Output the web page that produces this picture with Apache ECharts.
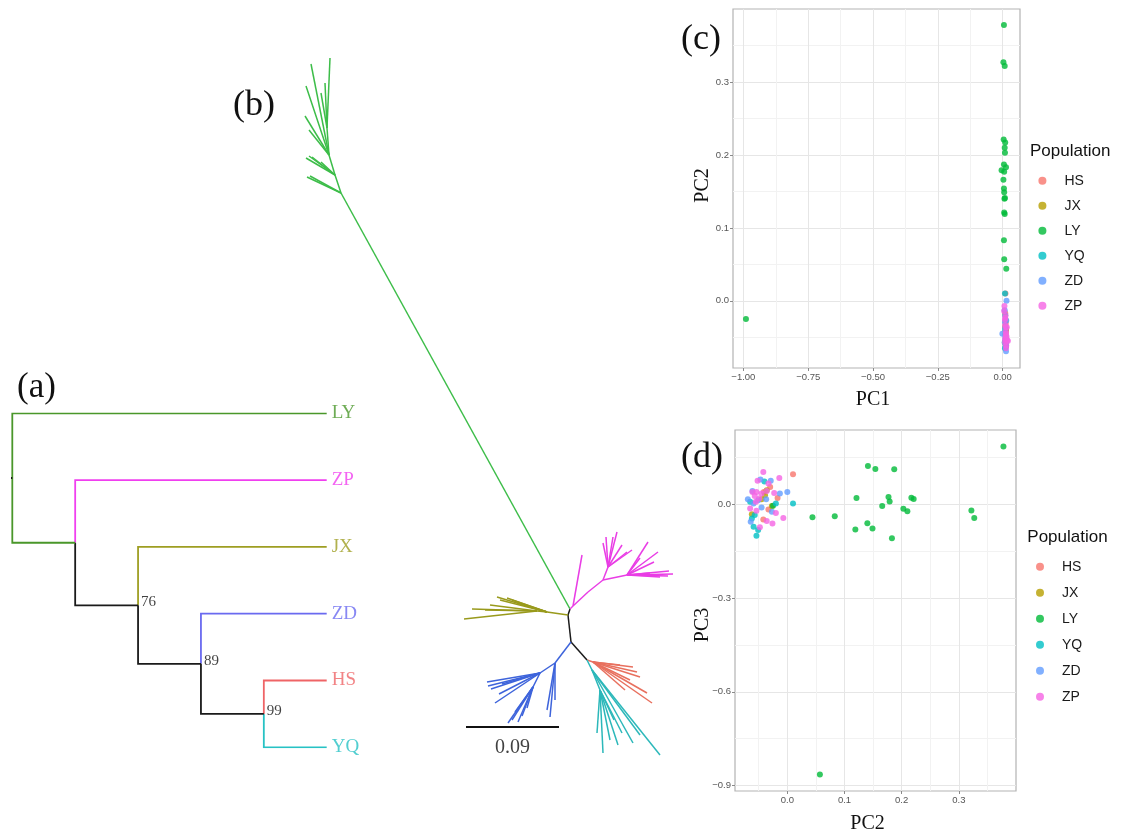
<!DOCTYPE html>
<html>
<head>
<meta charset="utf-8">
<title>Population structure</title>
<script src="https://cdn.jsdelivr.net/npm/echarts@6.0.0/dist/echarts.min.js"></script>
<style>
  html, body { margin: 0; padding: 0; background: #fff; }
  #chart { width: 1125px; height: 834px; }
</style>
</head>
<body>
<div id="chart"></div>
<script>
const populations = ['HS', 'JX', 'LY', 'YQ', 'ZD', 'ZP']

// (a) consensus tree of the six populations, with bootstrap support
const aTree = {
  children: [
    { name: 'LY' },
    { branch: 'LY', children: [
      { name: 'ZP' },
      { support: 76, children: [
        { name: 'JX' },
        { support: 89, children: [
          { name: 'ZD' },
          { support: 99, children: [{ name: 'HS' }, { name: 'YQ' }] },
        ] },
      ] },
    ] },
  ],
}
const aColors = { LY: '#4a972a', ZP: '#f03fef', JX: '#9e9e22', ZD: '#6a6af0', HS: '#ef6466', YQ: '#27c2c4' }

// (b) unrooted individual tree, layout units (93 units = 0.09)
const bInner = {
  n0: [0, 31], n1: [-2, 25], n2: [1, -2], n3: [17, -20],
  gH: [-229, 447], g1: [-235, 465], g2: [-241, 485], g3: [-243, 512],
  p0: [3, 34], p1: [18, 48], p2: [33, 60], p3: [38, 73], p4: [57, 65],
  o1: [-23, 28], o2: [-33, 29],
  b1: [-15, -23], b2: [-30, -33], b3: [-37, -47],
  r1: [23, -22],
  t1: [22, -30], t2: [30, -50],
}
const bBranches = {
  core: [['n0', 'n1'], ['n1', 'n2'], ['n2', 'n3']],
  LY: [['n0', 'gH'], ['gH', 'g1'], ['g1', 'g2'], ['g2', 'g3'],
    ['g3', [-240, 582]], ['g3', [-245, 557]], ['g3', [-249, 547]],
    ['g2', [-259, 576]], ['g2', [-264, 554]], ['g2', [-265, 524]], ['g2', [-261, 510]],
    ['g1', [-264, 482]], ['g1', [-261, 484]], ['g1', [-258, 483]], ['g1', [-249, 478]],
    ['gH', [-263, 463]], ['gH', [-260, 464]]],
  ZP: [['n0', 'p0'], ['p0', 'p1'], ['p1', 'p2'], ['p2', 'p3'], ['p2', 'p4'], ['p0', [12, 85]],
    ['p3', [47, 108]], ['p3', [43, 103]], ['p3', [36, 103]], ['p3', [33, 97]], ['p3', [52, 95]], ['p3', [57, 88]],
    ['p4', [78, 98]], ['p4', [88, 88]], ['p4', [70, 82]], ['p4', [103, 66]], ['p4', [99, 69]],
    ['p4', [98, 64]], ['p4', [90, 63]], ['p4', [80, 67]], ['p3', [62, 90]], ['p4', [84, 78]]],
  JX: [['n1', 'o1'], ['o1', 'o2'],
    ['o2', [-106, 21]], ['o2', [-98, 31]], ['o2', [-85, 30]], ['o2', [-80, 35]],
    ['o1', [-73, 43]], ['o1', [-70, 40]], ['o1', [-63, 42]], ['o1', [-58, 40]], ['o1', [-53, 37]]],
  ZD: [['n2', 'b1'], ['b1', 'b2'], ['b2', 'b3'],
    ['b1', [-15, -60]], ['b1', [-20, -77]], ['b1', [-23, -70]],
    ['b2', [-83, -42]], ['b2', [-82, -46]], ['b2', [-79, -49]], ['b2', [-75, -63]], ['b2', [-71, -54]],
    ['b2', [-68, -44]], ['b3', [-62, -83]], ['b3', [-58, -80]], ['b3', [-48, -76]], ['b3', [-43, -68]],
    ['b3', [-55, -72]], ['b3', [-52, -82]]],
  HS: [['n3', 'r1'],
    ['r1', [63, -27]], ['r1', [67, -32]], ['r1', [70, -37]], ['r1', [60, -40]],
    ['r1', [77, -53]], ['r1', [82, -63]], ['r1', [55, -50]], ['r1', [50, -25]]],
  YQ: [['n3', 't1'], ['t1', 't2'], ['t1', [90, -115]], ['t1', [63, -103]],
    ['t2', [33, -113]], ['t2', [27, -93]], ['t2', [44, -80]], ['t2', [52, -93]], ['t2', [40, -100]],
    ['t2', [48, -105]], ['t1', [70, -95]]],
}
const bColors = { core: '#1a1a1a', LY: '#3dbd49', ZP: '#e93de5', JX: '#999a1c', ZD: '#3e64db', HS: '#e8705e', YQ: '#2cb8ba' }
const bScaleBar = [[-104, -87], [-11, -87]]
const bScaleLabel = '0.09'

// (c)/(d) PCA scores: [PC1, PC2, PC3]
const pcHS = [[0.011, 0.010, 0.097], [0.012, -0.030, 0.056], [0.010, -0.017, 0.021],
  [0.013, -0.042, -0.048], [0.011, -0.033, -0.016], [0.012, -0.041, 0.040]]
const pcJX = [[0.012, -0.062, -0.031], [0.011, -0.045, 0.017], [0.010, -0.036, 0.046],
  [0.012, -0.027, -0.005], [0.013, -0.039, 0.030]]
const pcLY = [[0.005, 0.378, 0.186], [0.003, 0.327, -0.043], [0.008, 0.322, -0.019],
  [0.004, 0.221, 0.018], [0.010, 0.217, 0.022], [0.008, 0.210, -0.022], [0.009, 0.203, -0.014],
  [0.005, 0.187, 0.113], [0.013, 0.183, -0.108], [-0.004, 0.179, 0.010], [0.006, 0.177, 0.024],
  [0.003, 0.166, -0.005], [0.005, 0.154, 0.114], [0.006, 0.149, -0.077], [0.009, 0.141, 0.123],
  [0.007, 0.140, -0.060], [0.006, 0.121, 0.021], [0.008, 0.119, -0.080], [0.005, 0.083, -0.038],
  [0.006, 0.057, -0.865], [0.014, 0.044, -0.041], [-0.990, -0.025, -0.004]]
const pcYQ = [[0.010, -0.040, 0.074], [0.009, 0.010, 0.003], [0.012, -0.059, -0.071],
  [0.011, -0.054, -0.100], [0.008, -0.057, -0.034], [0.013, -0.062, -0.045], [0.010, -0.020, 0.003],
  [0.012, -0.051, -0.082], [0.009, -0.065, 0.009]]
const pcZD = [[0.011, -0.047, 0.080], [0.009, -0.029, 0.076], [0.012, -0.061, 0.043],
  [0.013, -0.069, 0.017], [0.010, -0.037, 0.017], [0.008, -0.013, 0.035], [0.015, 0.000, 0.040],
  [0.012, -0.064, -0.055], [-0.001, -0.045, -0.010], [0.014, -0.027, -0.023], [0.011, -0.051, 0.014],
  [0.013, -0.059, 0.003]]
const pcZP = [[0.012, -0.042, 0.104], [0.010, -0.052, 0.076], [0.006, -0.014, 0.085],
  [0.014, -0.061, 0.040], [0.011, -0.054, 0.040], [0.013, -0.045, 0.035], [0.009, -0.057, 0.027],
  [0.015, -0.049, 0.019], [0.012, -0.036, 0.043], [0.010, -0.023, 0.037], [0.013, -0.065, -0.013],
  [0.018, -0.054, -0.020], [0.011, -0.020, -0.027], [0.016, -0.036, -0.053], [0.009, -0.026, -0.061],
  [0.012, -0.048, -0.073], [0.007, -0.007, -0.043], [0.010, -0.033, 0.067], [0.020, -0.055, 0.009]]
const pcScores = { HS: pcHS, JX: pcJX, LY: pcLY, YQ: pcYQ, ZD: pcZD, ZP: pcZP }
const pcaColors = { HS: '#F8766D', JX: '#B79F00', LY: '#00BA38', YQ: '#00BFC4', ZD: '#619CFF', ZP: '#F564E3' }

const cTicksX = [-1, -0.75, -0.5, -0.25, 0]
const cMinorX = [-0.875, -0.625, -0.375, -0.125]
const cTicksY = [0, 0.1, 0.2, 0.3]
const cMinorY = [-0.05, 0.05, 0.15, 0.25, 0.35]
const dTicksX = [0, 0.1, 0.2, 0.3]
const dMinorX = [-0.05, 0.05, 0.15, 0.25, 0.35]
const dTicksY = [-0.9, -0.6, -0.3, 0]
const dMinorY = [-0.75, -0.45, -0.15, 0.15]

// ---- cladogram layout for (a)
function depthOf(n) { return n.children ? 1 + Math.max(...n.children.map(depthOf)) : 0 }
const leafDepth = depthOf(aTree)
const aEdges = [], aLeaves = [], aSupports = []
let leafCount = 0
function place(node, depth) {
  if (!node.children) {
    node.x = leafDepth; node.y = leafCount++
    aLeaves.push({ value: [node.x, node.y], name: node.name, label: { color: aColors[node.name] } })
    return
  }
  node.x = depth
  node.children.forEach(c => place(c, depth + 1))
  const ys = node.children.map(c => c.y)
  node.y = (Math.min(...ys) + Math.max(...ys)) / 2
  node.children.forEach(c => {
    aEdges.push({
      coords: [[node.x, node.y], [node.x, c.y], [c.x, c.y]],
      lineStyle: { color: aColors[c.name || c.branch] || '#1a1a1a' },
    })
  })
  if (node.support) aSupports.push({ value: [node.x, node.y], name: String(node.support) })
}
place(aTree, 0)
aEdges.push({ coords: [[aTree.x - 0.05, aTree.y], [aTree.x, aTree.y]], lineStyle: { color: '#1a1a1a' } })

const pt = p => (typeof p === 'string' ? bInner[p] : p)

const sans = 'Liberation Sans'
const serif = 'Liberation Serif'
const fmt = d => v => v.toFixed(d).replace('-', '\u2212')

function majorAxis(grid, min, max, ticks, digits) {
  return {
    type: 'value', gridIndex: grid, min, max,
    axisLine: { show: false, onZero: false },
    axisTick: { show: true, length: 3, customValues: ticks, lineStyle: { color: '#8a8a8a' } },
    axisLabel: { customValues: ticks, formatter: fmt(digits), fontSize: 9.5, color: '#555', fontFamily: sans, margin: 4 },
    splitLine: { show: true, lineStyle: { color: '#e6e6e6', width: 1 } },
  }
}
function minorAxis(grid, min, max, ticks) {
  return {
    type: 'value', gridIndex: grid, min, max,
    axisLine: { show: false, onZero: false }, axisLabel: { show: false },
    axisTick: { show: false, customValues: ticks },
    splitLine: { show: true, lineStyle: { color: '#f2f2f2', width: 1 } },
  }
}
const hidden = (grid, min, max, inverse) => ({ type: 'value', gridIndex: grid, min, max, inverse: !!inverse, show: false })

const cx = [-1.040, 0.067], cy = [-0.092, 0.400]
const dx = [-0.0915, 0.400], dy = [-0.9176, 0.2386]
const panelGrid = { show: true, borderColor: '#b3b3b3', borderWidth: 1.2, backgroundColor: '#fff' }

const series = []
series.push({
  type: 'lines', coordinateSystem: 'cartesian2d', xAxisIndex: 0, yAxisIndex: 0, polyline: true, silent: true,
  lineStyle: { width: 1.8, opacity: 1 }, data: aEdges,
})
series.push({
  type: 'scatter', xAxisIndex: 0, yAxisIndex: 0, symbolSize: 0, silent: true, data: aLeaves,
  label: { show: true, position: 'right', distance: 5, formatter: '{b}', fontFamily: serif, fontSize: 19 },
})
series.push({
  type: 'scatter', xAxisIndex: 0, yAxisIndex: 0, symbolSize: 0, silent: true, data: aSupports,
  label: { show: true, position: 'right', distance: 3, offset: [0, -3], formatter: '{b}', fontFamily: serif, fontSize: 15, color: '#111' },
})
Object.keys(bBranches).forEach(k => {
  series.push({
    type: 'lines', coordinateSystem: 'cartesian2d', xAxisIndex: 1, yAxisIndex: 1, silent: true,
    lineStyle: { color: bColors[k], width: 1.5, opacity: 1 },
    data: bBranches[k].map(([a, b]) => ({ coords: [pt(a), pt(b)] })),
  })
})
series.push({
  type: 'lines', coordinateSystem: 'cartesian2d', xAxisIndex: 1, yAxisIndex: 1, silent: true,
  lineStyle: { color: '#111', width: 2, opacity: 1 }, data: [{ coords: bScaleBar }],
})
series.push({
  type: 'scatter', xAxisIndex: 1, yAxisIndex: 1, symbolSize: 0, silent: true,
  data: [[(bScaleBar[0][0] + bScaleBar[1][0]) / 2, bScaleBar[0][1]]],
  label: { show: true, position: 'bottom', distance: 11, formatter: bScaleLabel, fontFamily: serif, fontSize: 20, color: '#111' },
})
populations.forEach(p => {
  series.push({
    type: 'scatter', name: p, xAxisIndex: 2, yAxisIndex: 2, symbolSize: 6,
    itemStyle: { color: pcaColors[p] }, data: pcScores[p].map(s => [s[0], s[1]]),
  })
})
populations.forEach(p => {
  series.push({
    type: 'scatter', name: p, xAxisIndex: 4, yAxisIndex: 4, symbolSize: 6,
    itemStyle: { color: pcaColors[p] }, data: pcScores[p].map(s => [s[1], s[2]]),
  })
})

const legendBase = {
  data: populations, orient: 'vertical', icon: 'circle', itemWidth: 34, itemHeight: 8, padding: 0,
  selectedMode: false, textStyle: { fontSize: 14, lineHeight: 14, color: '#1a1a1a', fontFamily: sans },
}

const txt = (text, x, y, size, family, opts) => ({
  type: 'text', x, y, rotation: (opts && opts.rotation) || 0, silent: true,
  style: { text, fill: '#111', font: size + 'px "' + family + '"', textAlign: (opts && opts.align) || 'center', textVerticalAlign: 'middle' },
})

const chart = echarts.init(document.getElementById('chart'))
chart.setOption({
  animation: false,
  backgroundColor: '#fff',
  grid: [
    { left: 12.3, top: 413.3, width: 314.4, height: 334 },
    { left: 280, top: 40, width: 420, height: 760 },
    Object.assign({ left: 733, top: 9, width: 287, height: 359 }, panelGrid),
    Object.assign({ left: 735, top: 430, width: 281, height: 361 }, panelGrid),
  ],
  xAxis: [
    hidden(0, 0, leafDepth),
    hidden(1, -290, 130),
    majorAxis(2, cx[0], cx[1], cTicksX, 2),
    minorAxis(2, cx[0], cx[1], cMinorX),
    majorAxis(3, dx[0], dx[1], dTicksX, 1),
    minorAxis(3, dx[0], dx[1], dMinorX),
  ],
  yAxis: [
    hidden(0, 0, populations.length - 1, true),
    hidden(1, -160, 600),
    majorAxis(2, cy[0], cy[1], cTicksY, 1),
    minorAxis(2, cy[0], cy[1], cMinorY),
    majorAxis(3, dy[0], dy[1], dTicksY, 1),
    minorAxis(3, dy[0], dy[1], dMinorY),
  ],
  legend: [
    Object.assign({ left: 1038.4, top: 173.7, itemGap: 11 }, legendBase),
    Object.assign({ left: 1036, top: 559.7, itemGap: 12 }, legendBase),
  ],
  graphic: [
    txt('(a)', 17, 388, 35, serif, { align: 'left' }),
    txt('(b)', 233, 106, 36, serif, { align: 'left' }),
    txt('(c)', 681, 40, 36, serif, { align: 'left' }),
    txt('(d)', 681, 458, 36, serif, { align: 'left' }),
    txt('PC1', 873, 400, 20, serif),
    txt('PC2', 702.5, 185.5, 20, serif, { rotation: Math.PI / 2 }),
    txt('PC2', 867.5, 824, 20, serif),
    txt('PC3', 703, 625, 20, serif, { rotation: Math.PI / 2 }),
    txt('Population', 1030, 151.7, 17, sans, { align: 'left' }),
    txt('Population', 1027.3, 537, 17, sans, { align: 'left' }),
  ],
  series,
})
</script>
</body>
</html>
